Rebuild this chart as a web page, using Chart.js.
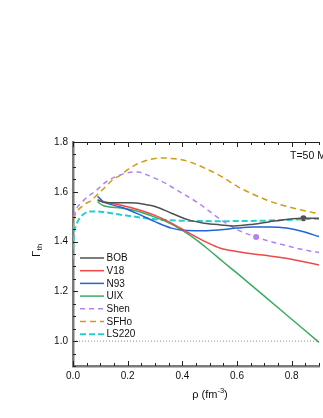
<!DOCTYPE html>
<html>
<head>
<meta charset="utf-8">
<script src="https://cdn.jsdelivr.net/npm/chart.js@4"></script>
<style>
  html, body { margin: 0; padding: 0; background: #fff; }
  canvas { display: block; }
</style>
</head>
<body>
<canvas id="gammaChart" width="323" height="418"></canvas>
<script>
// density rho (fm^-3) and Gamma_th per model
const bobRho = [0.09, 0.11, 0.15, 0.2, 0.23, 0.27, 0.30, 0.36, 0.42, 0.48, 0.54, 0.59, 0.66, 0.72, 0.78, 0.84, 0.9];
const bobGamma = [1.568, 1.558, 1.556, 1.556, 1.555, 1.548, 1.541, 1.514, 1.488, 1.474, 1.467, 1.463, 1.470, 1.480, 1.489, 1.494, 1.493];

const v18Rho = [0.09, 0.12, 0.18, 0.24, 0.30, 0.36, 0.42, 0.48, 0.54, 0.60, 0.66, 0.72, 0.78, 0.84, 0.9];
const v18Gamma = [1.565, 1.558, 1.545, 1.528, 1.505, 1.474, 1.437, 1.402, 1.373, 1.360, 1.350, 1.342, 1.333, 1.320, 1.306];

const n93Rho = [0.09, 0.11, 0.18, 0.24, 0.30, 0.36, 0.42, 0.48, 0.54, 0.60, 0.66, 0.72, 0.78, 0.84, 0.9];
const n93Gamma = [1.582, 1.561, 1.537, 1.510, 1.480, 1.454, 1.444, 1.443, 1.447, 1.454, 1.458, 1.458, 1.454, 1.440, 1.420];

const uixRho = [0.09, 0.11, 0.18, 0.24, 0.30, 0.36, 0.40, 0.45, 0.50, 0.55, 0.6, 0.7, 0.8, 0.9];
const uixGamma = [1.559, 1.545, 1.534, 1.521, 1.498, 1.470, 1.445, 1.408, 1.364, 1.318, 1.273, 1.181, 1.088, 0.995];

const shenRho = [0.003, 0.011, 0.035, 0.06, 0.085, 0.115, 0.145, 0.18, 0.21, 0.24, 0.27, 0.305, 0.337, 0.368, 0.398, 0.458, 0.542, 0.602, 0.67, 0.723, 0.783, 0.843, 0.9];
const shenGamma = [1.50, 1.528, 1.561, 1.585, 1.605, 1.635, 1.655, 1.670, 1.678, 1.679, 1.668, 1.652, 1.635, 1.615, 1.595, 1.555, 1.487, 1.447, 1.418, 1.400, 1.383, 1.367, 1.356];

const sfhoRho = [0.001, 0.004, 0.015, 0.041, 0.07, 0.095, 0.12, 0.145, 0.175, 0.2, 0.23, 0.265, 0.295, 0.331, 0.368, 0.398, 0.44, 0.482, 0.542, 0.602, 0.663, 0.723, 0.783, 0.843, 0.9];
const sfhoGamma = [1.45, 1.49, 1.52, 1.548, 1.568, 1.595, 1.621, 1.648, 1.668, 1.689, 1.709, 1.725, 1.733, 1.736, 1.733, 1.729, 1.715, 1.695, 1.662, 1.621, 1.588, 1.561, 1.541, 1.525, 1.511];

const ls220Rho = [0.0, 0.003, 0.01, 0.017, 0.035, 0.065, 0.1, 0.18, 0.3, 0.42, 0.55, 0.7, 0.78, 0.9];
const ls220Gamma = [1.33, 1.43, 1.46, 1.48, 1.507, 1.521, 1.52, 1.507, 1.49, 1.483, 1.482, 1.484, 1.487, 1.493];

// highlighted points
const bobDotRho = [0.843];
const bobDotGamma = [1.494];
const shenDotRho = [0.67];
const shenDotGamma = [1.418];

// Gamma_th = 1 reference
const refRho = [0, 0.9];
const refGamma = [1.0, 1.0];

const xTickLabels = [0, 0.2, 0.4, 0.6, 0.8];
const yTickLabels = [1.0, 1.2, 1.4, 1.6, 1.8];

const FONT = "'Liberation Sans', Arial, sans-serif";

const toPoints = (xs, ys) => xs.map((x, i) => ({ x: x, y: ys[i] }));
const isLabeled = (v, list) => list.some(l => Math.abs(l - v) < 1e-6);

const curve = (label, xs, ys, color, dash, width) => ({
    label: label,
    data: toPoints(xs, ys),
    borderColor: color,
    backgroundColor: color,
    borderWidth: width || 1.5,
    borderDash: dash || [],
    pointRadius: 0,
    cubicInterpolationMode: "monotone",
    fill: false
});

const datasets = [
    {
        label: "ref",
        data: toPoints(refRho, refGamma),
        borderColor: "#8a8a8a",
        borderWidth: 1,
        borderDash: [1, 2],
        pointRadius: 0,
        inLegend: false
    },
    curve("BOB", bobRho, bobGamma, "#505050"),
    curve("V18", v18Rho, v18Gamma, "#f04848"),
    curve("N93", n93Rho, n93Gamma, "#2263d8"),
    curve("UIX", uixRho, uixGamma, "#3aab62"),
    curve("Shen", shenRho, shenGamma, "#b283f0", [5, 4]),
    curve("SFHo", sfhoRho, sfhoGamma, "#d39b12", [6, 4]),
    curve("LS220", ls220Rho, ls220Gamma, "#22cfd2", [6, 3], 2),
    {
        label: "bobDot",
        type: "scatter",
        data: toPoints(bobDotRho, bobDotGamma),
        backgroundColor: "#505050",
        borderWidth: 0,
        pointRadius: 3,
        inLegend: false
    },
    {
        label: "shenDot",
        type: "scatter",
        data: toPoints(shenDotRho, shenDotGamma),
        backgroundColor: "#b283f0",
        borderWidth: 0,
        pointRadius: 3,
        inLegend: false
    }
];

// inward ticks, top frame line, titles and the in-plot legend
const framePlugin = {
    id: "frame",
    afterDraw(chart) {
        const ctx = chart.ctx;
        const area = chart.chartArea;
        const xs = chart.scales.x;
        const ys = chart.scales.y;

        ctx.save();
        ctx.strokeStyle = "#222";
        ctx.lineWidth = 1;

        // top axis line
        ctx.beginPath();
        ctx.moveTo(area.left, area.top + 0.5);
        ctx.lineTo(area.right, area.top + 0.5);
        ctx.stroke();

        ctx.beginPath();
        xs.ticks.forEach(t => {
            const px = Math.round(xs.getPixelForValue(t.value)) + 0.5;
            const len = isLabeled(t.value, xTickLabels) ? 5 : 3;
            ctx.moveTo(px, area.bottom);
            ctx.lineTo(px, area.bottom - len);
            ctx.moveTo(px, area.top);
            ctx.lineTo(px, area.top + len);
        });
        ys.ticks.forEach(t => {
            const py = Math.round(ys.getPixelForValue(t.value)) + 0.5;
            const len = isLabeled(t.value, yTickLabels) ? 5 : 3;
            ctx.moveTo(area.left, py);
            ctx.lineTo(area.left + len, py);
        });
        ctx.stroke();

        // legend
        ctx.font = "10px " + FONT;
        ctx.textBaseline = "middle";
        ctx.textAlign = "left";
        let rowY = 258;
        chart.data.datasets.forEach(ds => {
            if (ds.inLegend === false) return;
            ctx.beginPath();
            ctx.setLineDash(ds.borderDash || []);
            ctx.strokeStyle = ds.borderColor;
            ctx.lineWidth = ds.borderWidth;
            ctx.moveTo(80, rowY);
            ctx.lineTo(104, rowY);
            ctx.stroke();
            ctx.setLineDash([]);
            ctx.fillStyle = "#111";
            ctx.fillText(ds.label, 106.5, rowY + 0.5);
            rowY += 12.7;
        });

        // temperature label
        ctx.font = "10.5px " + FONT;
        ctx.textBaseline = "alphabetic";
        ctx.fillStyle = "#111";
        ctx.fillText("T=50 MeV", 290, 159);

        // x-axis title: rho (fm^-3)
        const main = "\u03C1 (fm";
        const sup = "-3";
        ctx.font = "11px " + FONT;
        const w1 = ctx.measureText(main).width;
        const w3 = ctx.measureText(")").width;
        ctx.font = "7.5px " + FONT;
        const w2 = ctx.measureText(sup).width;
        let x0 = 210 - (w1 + w2 + w3) / 2;
        const base = 398;
        ctx.font = "11px " + FONT;
        ctx.fillText(main, x0, base);
        ctx.font = "7.5px " + FONT;
        ctx.fillText(sup, x0 + w1, base - 5);
        ctx.font = "11px " + FONT;
        ctx.fillText(")", x0 + w1 + w2, base);

        // y-axis title: Gamma_th
        ctx.translate(40, 257);
        ctx.rotate(-Math.PI / 2);
        ctx.font = "11.5px " + FONT;
        ctx.fillText("\u0393", 0, 0);
        const gw = ctx.measureText("\u0393").width;
        ctx.font = "7.5px " + FONT;
        ctx.fillText("th", gw + 0.5, 2);

        ctx.restore();
    }
};

const gammaChart = new Chart(document.getElementById("gammaChart").getContext("2d"), {
    type: "line",
    data: { datasets: datasets },
    options: {
        responsive: false,
        animation: false,
        events: [],
        layout: { padding: { top: 142, right: 0, bottom: 0, left: 0 } },
        plugins: {
            legend: { display: false },
            tooltip: { enabled: false }
        },
        scales: {
            x: {
                type: "linear",
                min: 0,
                max: 0.9,
                grid: { display: false, drawTicks: false },
                border: { display: true, color: "#7a7a7a", width: 2.5 },
                ticks: {
                    stepSize: 0.05,
                    maxTicksLimit: 100,
                    autoSkip: false,
                    maxRotation: 0,
                    padding: 4,
                    color: "#111",
                    font: { family: FONT, size: 10 },
                    callback: v => isLabeled(v, xTickLabels) ? v.toFixed(1) : ""
                },
                afterFit(scale) { scale.height = 52; }
            },
            y: {
                type: "linear",
                min: 0.9,
                max: 1.8,
                grid: { display: false, drawTicks: false },
                border: { display: true, color: "#7a7a7a", width: 2.5 },
                ticks: {
                    stepSize: 0.05,
                    maxTicksLimit: 100,
                    autoSkip: false,
                    padding: 5,
                    color: "#111",
                    font: { family: FONT, size: 10 },
                    callback: v => isLabeled(v, yTickLabels) ? v.toFixed(1) : ""
                },
                afterFit(scale) { scale.width = 73; }
            }
        }
    },
    plugins: [framePlugin]
});
</script>
</body>
</html>
